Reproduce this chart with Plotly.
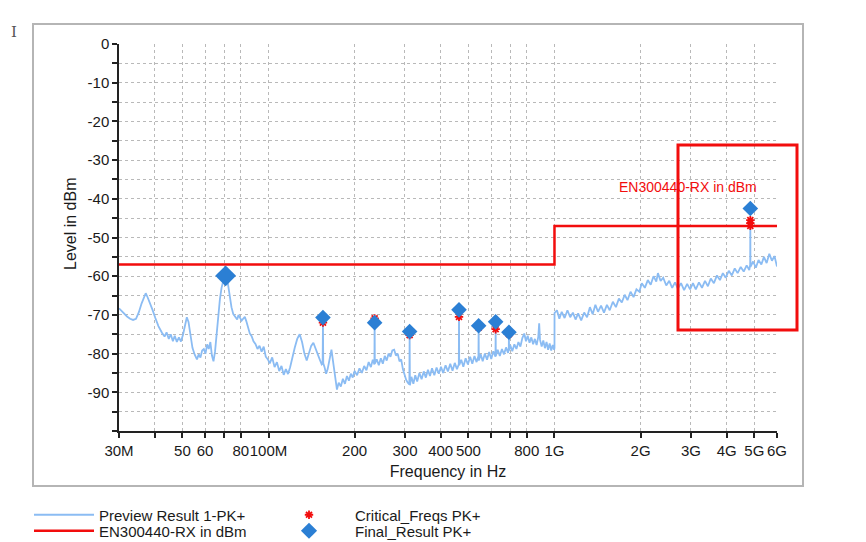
import math
import plotly.graph_objects as go

# ---------------- data ----------------
# Preview Result 1-PK+ (frequency in MHz, level in dBm)
seg1_mhz = [30.0, 30.6, 31.3, 32.0, 32.8, 33.6, 34.4, 35.2, 36.0, 36.7,
            37.2, 37.8, 38.5, 39.3, 40.2, 41.2, 42.4, 43.3, 44.0, 44.8,
            45.5, 46.3, 47.0, 47.8, 48.6, 49.4, 50.2, 51.0, 51.8, 52.5,
            53.3, 54.2, 55.2, 56.2, 57.0, 57.8, 58.6, 59.4, 60.2, 61.0,
            61.8, 62.6, 63.4, 64.2, 65.0, 65.8, 66.7, 67.6, 68.5, 69.4,
            70.1, 70.8, 71.5, 72.3, 73.2, 74.2, 75.3, 76.5, 77.7, 78.5,
            79.5, 80.5, 81.5, 82.6, 83.6, 84.8, 86.0, 87.3, 88.6, 90.0,
            91.5, 93.0, 94.6, 96.2, 97.8, 99.5]
seg1_dbm = [-68.3, -69.0, -69.6, -70.4, -71.0, -71.3, -71.0, -69.3, -67.0, -65.2,
            -64.4, -65.5, -67.3, -68.7, -70.8, -72.9, -74.6, -75.6, -74.5, -76.2,
            -75.0, -76.8, -75.4, -77.0, -75.8, -76.9, -75.2, -72.8, -70.6, -71.8,
            -75.0, -78.5, -80.3, -81.5, -80.2, -81.0, -79.2, -78.8, -80.0, -77.6,
            -78.8, -77.0, -80.5, -82.0, -79.5, -75.0, -70.2, -66.0, -63.0, -61.0,
            -60.0, -59.8, -60.3, -62.5, -65.5, -68.0, -69.8, -70.4, -71.2, -70.0,
            -70.6, -71.5, -71.0, -70.5, -71.6, -73.0, -74.8, -75.5, -76.8, -77.5,
            -78.8, -78.0, -79.5, -78.2, -80.8, -81.5]

seg2_mhz = [101, 103, 105, 107, 109, 111, 113, 115, 117, 119,
            121, 123.5, 126, 128.5, 131, 133.5, 136, 138.5, 141, 143.5,
            146, 148.5, 151, 153.5, 154.6, 155.0, 155.4, 157, 159, 161,
            163.5, 166, 168.5, 171, 173.5, 176, 179, 182, 185, 188,
            191, 194, 197, 200, 204, 208, 212, 216, 220, 224,
            228, 231.5, 234.6, 235.0, 235.4, 239, 243, 247, 251, 255,
            259, 263, 267, 271, 275, 279, 283, 287, 291, 295,
            299, 303, 307, 310.8, 311.5, 312.2]
seg2_dbm = [-82.5, -81.0, -83.5, -82.2, -84.5, -83.2, -85.5, -84.0, -85.3, -83.5,
            -81.0, -78.5, -76.2, -75.0, -77.0, -80.0, -81.8, -80.0, -78.0, -77.2,
            -78.5, -80.2, -81.5, -82.8, -82.6, -72.0, -82.5, -83.5, -85.2, -84.0,
            -81.5, -79.0, -82.5, -86.5, -89.3, -87.5, -88.5, -86.5, -87.8, -85.8,
            -87.0, -85.2, -86.2, -84.5, -85.6, -83.8, -85.0, -83.2, -84.3, -82.2,
            -83.5, -81.6, -82.8, -70.9, -82.6, -81.5, -83.0, -81.2, -82.6, -80.6,
            -81.8, -80.0, -80.8, -79.2, -79.0, -80.5, -80.0, -82.0, -81.5, -84.0,
            -85.5, -86.8, -87.5, -88.0, -75.2, -88.2]

seg3_mhz = [316, 321, 326, 331, 337, 343, 349, 355, 361, 367,
            373, 380, 387, 394, 401, 408, 416, 424, 432, 440,
            448, 456, 462.8, 463.6, 464.4, 472, 480, 489, 498, 507,
            516, 525, 534, 542.2, 543.0, 543.8, 552, 561, 571, 581,
            591, 601, 611, 621.8, 622.7, 623.6, 633, 644, 655, 666,
            677, 688, 692.2, 693.0, 693.8, 700, 712, 724, 736, 748,
            760, 772, 784, 795, 806, 818, 830, 842, 854, 866,
            878, 884, 890, 902, 914, 926, 938, 950, 962, 974,
            986, 997]
seg3_dbm = [-86.0, -87.8, -85.6, -87.2, -85.0, -86.6, -84.6, -86.2, -84.2, -85.8,
            -83.8, -85.6, -83.6, -85.2, -83.4, -85.0, -83.0, -84.6, -82.6, -84.4,
            -82.4, -84.0, -82.8, -70.5, -83.0, -81.6, -83.4, -81.2, -82.8, -80.8,
            -82.6, -80.6, -82.2, -80.6, -73.0, -81.8, -80.2, -82.0, -80.0, -81.6,
            -79.6, -81.4, -79.4, -80.8, -73.7, -80.6, -79.0, -80.6, -78.8, -80.2,
            -78.4, -79.8, -78.6, -74.5, -79.2, -77.8, -79.4, -77.6, -78.8, -77.0,
            -78.2, -76.0, -74.8, -76.8, -75.4, -77.2, -75.8, -77.6, -76.2, -77.8,
            -75.6, -72.2, -76.4, -78.2, -76.6, -78.6, -77.0, -79.0, -77.4, -79.2,
            -77.8, -79.0]

seg4_mhz = [1000, 1000.5, 1020, 1040, 1060, 1085, 1110, 1135, 1160, 1185,
            1210, 1240, 1270, 1300, 1330, 1360, 1390, 1420, 1455, 1490,
            1525, 1560, 1600, 1640, 1680, 1720, 1760, 1800, 1845, 1890,
            1935, 1980, 2020, 2070, 2120, 2170, 2220, 2270, 2300, 2350,
            2400, 2460, 2520, 2580, 2640, 2700, 2770, 2840, 2910, 2980,
            3050, 3120, 3200, 3280, 3360, 3440, 3520, 3610, 3700, 3790,
            3880, 3970, 4070, 4170, 4270, 4370, 4480, 4590, 4700, 4800,
            4835, 4840, 4845, 4950, 5060, 5170, 5290, 5400, 5520, 5640,
            5760, 5880, 6000]
seg4_dbm = [-78.5, -69.5, -68.8, -71.0, -69.2, -70.8, -68.8, -70.6, -69.4, -71.2,
            -69.6, -71.4, -69.4, -70.6, -68.0, -69.8, -67.4, -69.2, -67.6, -69.4,
            -67.4, -68.8, -66.6, -68.0, -65.8, -66.8, -64.8, -66.2, -64.0, -65.4,
            -63.4, -64.0, -61.8, -63.0, -61.0, -62.2, -60.0, -61.4, -59.2, -61.2,
            -60.4, -62.4, -61.2, -63.0, -61.6, -63.2, -61.8, -63.6, -62.0, -63.4,
            -61.8, -63.4, -61.6, -63.0, -61.2, -62.6, -60.6, -61.8, -59.8, -61.0,
            -59.2, -60.4, -58.6, -59.8, -58.0, -59.2, -57.6, -58.8, -57.2, -58.4,
            -57.0, -45.5, -57.6, -56.2, -57.8, -55.8, -57.0, -55.0, -56.6, -54.2,
            -56.0, -54.8, -57.5]

# EN300440-RX limit line
limit_mhz = [30, 1000, 1000, 6000]
limit_dbm = [-57, -57, -47, -47]

# Critical_Freqs PK+
crit_mhz = [70.8, 155.0, 235.0, 311.5, 463.6, 543.0, 622.7, 693.0, 4840, 4840, 4840]
crit_dbm = [-60.4, -72.0, -70.9, -75.2, -70.5, -73.3, -73.7, -75.0, -45.5, -46.3, -47.0]

# Final_Result PK+
final_mhz = [70.8, 155.0, 235.0, 311.5, 463.6, 543.0, 622.7, 693.0, 4840]
final_dbm = [-59.9, -70.7, -72.0, -74.3, -68.7, -72.8, -71.8, -74.5, -42.5]

# axis ticks
xtick_mhz = [30, 40, 50, 60, 70, 80, 100, 200, 300, 400, 500, 600, 700, 800,
             1000, 2000, 3000, 4000, 5000, 6000]
xtick_text = ["30M", "", "50", "60", "", "80", "100M", "200", "300", "400", "500",
              "", "", "800", "1G", "2G", "3G", "4G", "5G", "6G"]
ytick_vals = [0, -10, -20, -30, -40, -50, -60, -70, -80, -90]
ytick_text = ["0", "-10", "-20", "-30", "-40", "-50", "-60", "-70", "-80", "-90"]

for a, b in [(seg1_mhz, seg1_dbm), (seg2_mhz, seg2_dbm), (seg3_mhz, seg3_dbm), (seg4_mhz, seg4_dbm)]:
    assert len(a) == len(b)

preview_mhz = seg1_mhz + seg2_mhz + seg3_mhz + seg4_mhz
preview_dbm = seg1_dbm + seg2_dbm + seg3_dbm + seg4_dbm

MHZ = 1e6
def hz(lst):
    return [v * MHZ for v in lst]

# ---------------- figure ----------------
FONT = "Liberation Sans, Arial, Helvetica, sans-serif"
BLUE_LIGHT = "#8bbcf3"
BLUE = "#2b7fd4"
RED = "#f20d0d"
GRID = "#b9b9b9"
TXT = "#1a1a1a"

# page body has an 8px margin; the figure is laid out in screen coordinates
OFF = 8
W, H = 866 - OFF, 542 - OFF
PL, PR, PT, PB = 119, 777, 44, 431        # plot area in screen px
L, T = PL - OFF, PT - OFF
R, B = W - (PR - OFF), H - (PB - OFF)
pw, ph = PR - PL, PB - PT

def px(xs):
    return (xs - PL) / pw

def py(ys):
    return (PB - ys) / ph

def cx(xs):
    return (xs - OFF) / W

def cy(ys):
    return 1 - (ys - OFF) / H

fig = go.Figure()

fig.add_trace(go.Scatter(
    x=hz(preview_mhz), y=preview_dbm, mode="lines", name="Preview Result 1-PK+",
    line=dict(color=BLUE_LIGHT, width=1.8), legend="legend"))

fig.add_trace(go.Scatter(
    x=hz(limit_mhz), y=limit_dbm, mode="lines", name="EN300440-RX in dBm",
    line=dict(color=RED, width=2.5), legend="legend3"))

fig.add_trace(go.Scatter(
    x=hz(crit_mhz), y=crit_dbm, mode="markers", name="Critical_Freqs PK+",
    marker=dict(symbol="asterisk-open", size=7, color=RED, opacity=1,
                line=dict(color=RED, width=1.8)),
    legend="legend2"))

fig.add_trace(go.Scatter(
    x=hz(final_mhz), y=final_dbm, mode="markers", name="Final_Result PK+",
    marker=dict(symbol="diamond", size=[16] + [12] * (len(final_mhz) - 1), color=BLUE,
                opacity=1, line=dict(width=0)),
    legend="legend4"))

shapes = [
    # outer grey frame
    dict(type="rect", xref="paper", yref="paper", x0=px(33), x1=px(803), y0=py(486), y1=py(24),
         line=dict(color="#b5b5b5", width=2), layer="below"),
    # red highlight box
    dict(type="rect", xref="paper", yref="paper", x0=px(678), x1=px(797), y0=py(330), y1=py(145),
         line=dict(color=RED, width=3)),
]

annotations = [
    dict(x=math.log10(2.92e9), y=-37, xref="x", yref="y", text="EN300440-RX in dBm",
         showarrow=False, font=dict(family=FONT, size=14, color=RED)),
    dict(x=px(70), y=py(224), xref="paper", yref="paper", text="Level in dBm", textangle=-90,
         xanchor="center", yanchor="middle",
         showarrow=False, font=dict(family=FONT, size=16, color=TXT)),
    dict(x=px(14), y=py(32), xref="paper", yref="paper", text="I", showarrow=False,
         xanchor="center", yanchor="middle",
         font=dict(family="DejaVu Serif, serif", size=15, color="#555555")),
]

def leg(xs, ys, iw):
    return dict(xref="container", yref="container", x=cx(xs), y=cy(ys),
                xanchor="left", yanchor="middle", orientation="v",
                font=dict(family=FONT, size=15, color=TXT), bgcolor="rgba(0,0,0,0)",
                itemwidth=iw, borderwidth=0)

fig.update_layout(
    width=W, height=H,
    margin=dict(l=L, r=R, t=T, b=B, autoexpand=False),
    paper_bgcolor="white", plot_bgcolor="white",
    font=dict(family=FONT, size=15, color=TXT),
    shapes=shapes, annotations=annotations,
    legend=leg(29, 515, 60),
    legend3=leg(29, 531, 60),
    legend2=leg(263, 515, 82),
    legend4=leg(263, 531, 82),
    showlegend=True,
)

fig.update_xaxes(
    type="log", range=[math.log10(30e6), math.log10(6e9)],
    tickvals=hz(xtick_mhz), ticktext=xtick_text, tickangle=0,
    showline=True, linecolor="#222222", linewidth=1.5, mirror=False,
    ticks="outside", ticklen=5, tickwidth=1.5, tickcolor="#222222",
    tickfont=dict(family=FONT, size=15, color=TXT),
    showgrid=True, gridcolor=GRID, gridwidth=1, griddash="3px,3px",
    zeroline=False,
    title=dict(text="Frequency in Hz", font=dict(family=FONT, size=16, color=TXT), standoff=8),
)

fig.update_yaxes(
    range=[-100, 0], tickvals=ytick_vals, ticktext=ytick_text,
    showline=True, linecolor="#222222", linewidth=1.5, mirror=False,
    ticks="outside", ticklen=5, tickwidth=1.5, tickcolor="#222222",
    tickfont=dict(family=FONT, size=15, color=TXT),
    showgrid=True, gridcolor=GRID, gridwidth=1, griddash="3px,3px",
    minor=dict(dtick=5, ticks="outside", ticklen=5, tickwidth=1.5, tickcolor="#222222",
               showgrid=True, gridcolor=GRID, gridwidth=1, griddash="3px,3px"),
    zeroline=False,
)

fig.write_html("out.html")
